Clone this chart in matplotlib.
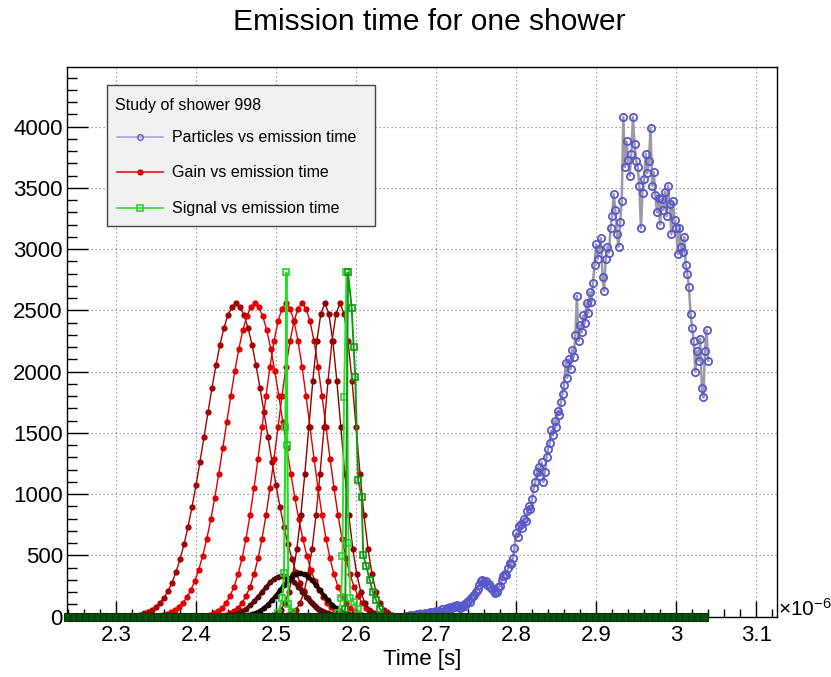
import numpy as np
import matplotlib
matplotlib.use("Agg")
import matplotlib.pyplot as plt
from matplotlib.patches import Rectangle
from matplotlib.lines import Line2D
from matplotlib.ticker import MultipleLocator, FuncFormatter

plt.rcParams['font.family'] = ['Liberation Sans', 'DejaVu Sans']
plt.rcParams['mathtext.fontset'] = 'custom'
plt.rcParams['mathtext.rm'] = 'Liberation Sans'
plt.rcParams['mathtext.it'] = 'Liberation Sans:italic'

# ---------------- data (time in units of 1e-6 s) ----------------
# Particles vs emission time: sampled every 0.002 starting at 2.662
particle_t0, particle_dt = 2.662, 0.002
particle_counts = [
    0, 5, 0, 10, 8, 15, 5, 20, 12, 25,
    18, 10, 30, 22, 15, 35, 28, 40, 30, 45,
    38, 50, 42, 60, 48, 55, 70, 62, 75, 68,
    85, 78, 95, 88, 70, 80, 95, 90, 110, 125,
    120, 150, 165, 180, 200, 230, 260, 290, 300, 280,
    295, 260, 270, 240, 230, 210, 190, 205, 240, 250,
    300, 330, 350, 340, 400, 440, 430, 480, 560, 680,
    650, 740, 760, 720, 800, 780, 860, 900, 880, 960,
    1050, 1100, 1180, 1220, 1150, 1260, 1100, 1180, 1300, 1370,
    1420, 1520, 1480, 1600, 1550, 1680, 1650, 1750, 1820, 1890,
    2070, 1950, 2100, 2020, 2180, 2120, 2300, 2620, 2250, 2380,
    2320, 2460, 2400, 2560, 2480, 2650, 2570, 2720, 2870, 3040,
    2920, 3000, 3090, 2770, 2660, 2920, 3020, 2970, 3170, 3270,
    3450, 3320, 3120, 3020, 3220, 3390, 4080, 3670, 3880, 3730,
    3600, 3780, 4080, 3860, 3720, 3670, 3520, 3170, 3460, 3570,
    3780, 3620, 3720, 3990, 3520, 3630, 3440, 3300, 3420, 3200,
    3410, 3320, 3470, 3270, 3520, 3370, 3120, 3390, 3240, 3170,
    2960, 3170, 3020, 2980, 3100, 2870, 2800, 2690, 2470, 2360,
    2250, 2000, 2170, 2090, 2270, 1870, 1790, 2170, 2340, 2090,
]

# Gain vs emission time: one curve per detector, sampled every 0.005
gain_dt = 0.005
gain_starts = [2.330, 2.3585, 2.4175, 2.4375, 2.496, 2.515]
gain_values = [
    [17, 26, 39, 56, 80, 112, 154, 209, 278, 364, 467, 590, 733, 895, 1073, 1265,
     1465, 1668, 1867, 2054, 2220, 2359, 2463, 2528, 2560, 2528, 2463, 2359, 2220,
     2054, 1867, 1668, 1465, 1265, 1073, 895, 733, 590, 467, 364, 278, 209, 154,
     112, 80, 56, 39, 26, 17],
    [16, 24, 36, 54, 79, 112, 157, 216, 291, 385, 499, 636, 794, 972, 1168, 1376,
     1589, 1802, 2004, 2185, 2338, 2453, 2525, 2560, 2525, 2453, 2338, 2185, 2004,
     1802, 1589, 1376, 1168, 972, 794, 636, 499, 385, 291, 216, 157, 112, 79, 54,
     36, 24, 16],
    [17, 28, 46, 73, 112, 168, 244, 345, 475, 636, 828, 1048, 1291, 1547, 1802,
     2042, 2250, 2412, 2515, 2560, 2515, 2412, 2250, 2042, 1802, 1547, 1291, 1048,
     828, 636, 475, 345, 244, 168, 112, 73, 46, 28, 17],
    [17, 28, 46, 73, 112, 168, 244, 345, 475, 636, 828, 1048, 1291, 1547, 1802,
     2042, 2250, 2412, 2515, 2560, 2515, 2412, 2250, 2042, 1802, 1547, 1291, 1048,
     828, 636, 475, 345, 244, 168, 112, 73, 46, 28, 17],
    [13, 28, 58, 112, 203, 345, 552, 828, 1167, 1547, 1925, 2250, 2471, 2560, 2471,
     2250, 1925, 1547, 1167, 828, 552, 345, 203, 112, 58, 28, 13],
    [13, 28, 58, 112, 203, 345, 552, 828, 1167, 1547, 1925, 2250, 2471, 2560, 2471,
     2250, 1925, 1547, 1167, 828, 552, 345, 203, 112, 58, 28, 13],
]
gain_colors = ['#a80000', '#e00000', '#e80000', '#d40000', '#8c0000', '#a60000']

# Low-gain detectors
low_gain_starts = [2.438, 2.460]
low_gain_values = [
    [7, 11, 19, 30, 45, 66, 93, 126, 163, 203, 243, 280, 309, 328, 335, 328, 309,
     280, 243, 203, 163, 126, 93, 66, 45, 30, 19, 11, 7],
    [7, 12, 20, 32, 48, 70, 99, 133, 172, 215, 258, 297, 328, 348, 355, 348, 328,
     297, 258, 215, 172, 133, 99, 70, 48, 32, 20, 12, 7],
]
low_gain_colors = ['#5a0a0a', '#1c0000']

# Signal vs emission time
signal_a_t = [2.495, 2.503, 2.5080, 2.5100, 2.5118, 2.5130, 2.5142, 2.5155, 2.5200, 2.5280]
signal_a_v = [0, 30, 150, 356, 1551, 2810, 1400, 100, 40, 0]
signal_b_t = [2.570, 2.578, 2.5815, 2.5830, 2.5850, 2.5880, 2.5905, 2.5930, 2.5970, 2.6020, 2.6080]
signal_b_v = [0, 30, 150, 494, 1790, 2810, 600, 150, 120, 60, 0]
signal_c_t = [2.580, 2.5865, 2.5900, 2.5946, 2.5970, 2.5990, 2.6025, 2.6070, 2.6090,
              2.6130, 2.6170, 2.6210, 2.6250, 2.6300, 2.6380]
signal_c_v = [0, 60, 2810, 2520, 2200, 1960, 1115, 980, 500, 410, 300, 200, 136, 60, 0]

# Detectors that recorded no signal over the whole window
floor_t = np.arange(2.24, 3.0401, 0.0075)
floor_v = np.zeros(len(floor_t))

x_ticks = [2.3, 2.4, 2.5, 2.6, 2.7, 2.8, 2.9, 3.0, 3.1]
y_ticks = [0, 500, 1000, 1500, 2000, 2500, 3000, 3500, 4000]

# ---------------- figure ----------------
fig = plt.figure(figsize=(8.31, 6.77), dpi=100)
ax = fig.add_axes([0.0806, 0.0891, 0.8544, 0.8115])

for start, vals, col in zip(gain_starts, gain_values, gain_colors):
    t = start + gain_dt * np.arange(len(vals))
    ax.plot(t, vals, '-', color=col, lw=1.0, marker='o', ms=4.5, mew=0, zorder=2)

for start, vals, col in zip(low_gain_starts, low_gain_values, low_gain_colors):
    t = start + gain_dt * np.arange(len(vals))
    ax.plot(t, vals, '-', color=col, lw=2.8, marker='o', ms=4.2, mew=0, zorder=3)

ax.plot(signal_a_t, signal_a_v, '-', color='#22dd22', lw=1.5, marker='s', ms=5,
        mfc='none', mec='#22cc22', mew=1.2, zorder=4)
ax.plot(signal_b_t, signal_b_v, '-', color='#33e033', lw=1.4, marker='s', ms=5,
        mfc='none', mec='#33cc33', mew=1.2, zorder=4)
ax.plot(signal_c_t, signal_c_v, '-', color='#119911', lw=1.4, marker='s', ms=5,
        mfc='none', mec='#109910', mew=1.2, zorder=4)

particle_t = particle_t0 + particle_dt * np.arange(len(particle_counts))
ax.plot(particle_t, particle_counts, '-', color='#9a9aa6', lw=1.8, marker='o', ms=5.2,
        mfc='none', mec='#5858cc', mew=1.3, zorder=4)

ax.plot(floor_t, floor_v, '-', color='#0a4a0a', lw=3.2, marker='s', ms=6,
        mfc='#0a4f0a', mec='#063806', mew=0.8, zorder=5, clip_on=False)

ax.set_xlim(2.2388, 3.126)
ax.set_ylim(0, 4485)

ax.set_xticks(x_ticks)
ax.xaxis.set_major_formatter(FuncFormatter(lambda v, p: '%g' % round(v, 3)))
ax.set_yticks(y_ticks)
ax.xaxis.set_minor_locator(MultipleLocator(0.02))
ax.yaxis.set_minor_locator(MultipleLocator(100))
ax.tick_params(axis='both', which='both', direction='in', top=False, right=False,
               labelsize=16, colors='black', width=1.0)
ax.tick_params(axis='x', which='major', length=11.5, pad=6)
ax.tick_params(axis='x', which='minor', length=5.8)
ax.tick_params(axis='y', which='major', length=15, pad=3)
ax.tick_params(axis='y', which='minor', length=7.5)
ax.grid(True, which='major', color='#8a8a8a', ls=(0, (1, 2.2)), lw=0.9)
ax.set_axisbelow(True)
for s in ax.spines.values():
    s.set_linewidth(1.0)
    s.set_color('black')

# titles and axis texts
fig.text(0.516, 1 - 22 / 677, 'Emission time for one shower', ha='center', va='center',
         fontsize=21.5)
fig.text(422 / 831, 1 - 660 / 677, 'Time [s]', ha='center', va='center', fontsize=16)
fig.text(778 / 831, 1 - 609 / 677, r'$\times10^{-6}$', ha='left', va='center', fontsize=15)

# legend box
lx0, lx1 = 0.056, 0.434
ly0, ly1 = 0.712, 0.967
ax.add_patch(Rectangle((lx0, ly0), lx1 - lx0, ly1 - ly0, transform=ax.transAxes,
                       facecolor='#f1f1f1', edgecolor='#444444', lw=1.0, zorder=10))
ax.text(0.0676, 0.9308, 'Study of shower 998', transform=ax.transAxes, fontsize=11.5,
        va='center', ha='left', zorder=11)
entries = [
    ('Particles vs emission time', dict(color='#a8a8d4', marker='o', ms=4.0, mfc='none',
                                        mec='#5b5bd0', mew=1.0)),
    ('Gain vs emission time', dict(color='#ee1111', marker='o', ms=4.5, mfc='#dd0000',
                                   mec='#dd0000', mew=0)),
    ('Signal vs emission time', dict(color='#33dd33', marker='s', ms=5, mfc='none',
                                     mec='#22cc22', mew=1.1)),
]
entry_y = [0.8725, 0.8087, 0.7432]
for (label, style), yy in zip(entries, entry_y):
    ax.add_line(Line2D([0.0704, 0.1352], [yy, yy], transform=ax.transAxes, lw=1.2,
                       color=style['color'], zorder=11))
    ax.add_line(Line2D([0.1028], [yy], transform=ax.transAxes, ls='none', zorder=12,
                       marker=style['marker'], ms=style['ms'], mfc=style['mfc'],
                       mec=style['mec'], mew=style['mew']))
    ax.text(0.1479, yy, label, transform=ax.transAxes, fontsize=11.5, va='center',
            ha='left', zorder=11)

fig.savefig('out.png', dpi=100)
